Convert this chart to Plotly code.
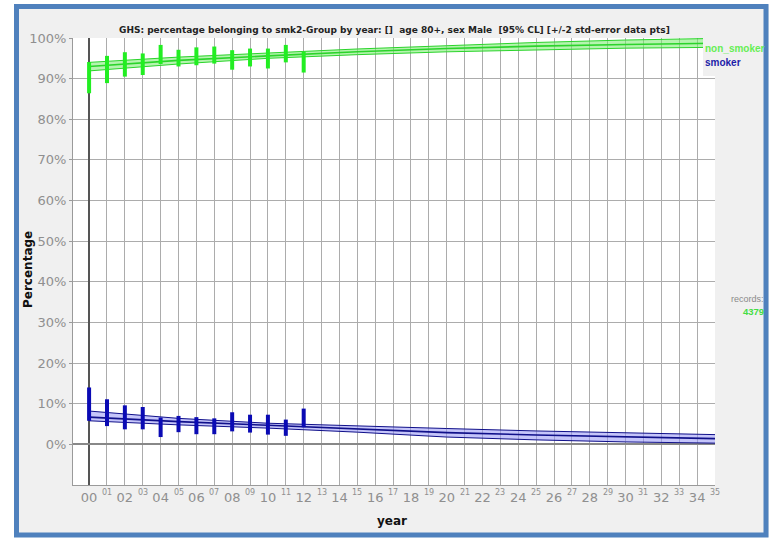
import plotly.graph_objects as go

# ---------------- data ----------------
years = list(range(0, 13))
non_lo = [86.4, 88.9, 90.5, 90.9, 93.6, 93.0, 93.3, 93.7, 92.2, 93.0, 92.5, 94.0, 91.5]
non_hi = [94.1, 95.6, 96.5, 96.2, 98.3, 97.1, 97.7, 97.9, 97.0, 97.4, 97.4, 98.3, 96.6]
smk_lo = [5.8, 4.5, 3.7, 3.7, 1.8, 3.0, 2.5, 2.5, 3.2, 2.9, 2.4, 2.1, 4.2]
smk_hi = [14.0, 11.1, 9.6, 9.2, 6.6, 7.0, 6.7, 6.4, 7.9, 7.3, 7.3, 6.1, 8.8]

fit_years = [0, 5, 10, 15, 20, 25, 30, 35]
non_fit = [93.0, 94.5, 95.6, 96.6, 97.4, 98.0, 98.4, 98.7]
non_fit_hi = [94.0, 95.3, 96.3, 97.3, 98.1, 98.9, 99.5, 99.9]
non_fit_lo = [91.9, 93.6, 95.0, 95.9, 96.6, 97.1, 97.5, 97.7]
smk_fit = [6.7, 5.6, 4.7, 3.8, 2.9, 2.3, 1.8, 1.4]
smk_fit_hi = [8.2, 6.4, 5.2, 4.5, 3.9, 3.3, 2.8, 2.4]
smk_fit_lo = [5.8, 4.8, 4.0, 3.0, 1.8, 1.1, 0.6, 0.3]

x_ticks = list(range(0, 36))
x_labels = ["%02d" % v for v in x_ticks]
y_ticks = list(range(0, 101, 10))
y_labels = ["%d%%" % v for v in y_ticks]

title = "GHS: percentage belonging to smk2-Group by year: []  age 80+, sex Male  [95% CL] [+/-2 std-error data pts]"
records = "4379"

# ---------------- layout helpers ----------------
W, H = 769, 539
L, R, T, B = 73, 715, 38, 485


def px(x):
    return (x - L) / (R - L)


def py(y):
    return (B - y) / (B - T)


GREEN = "#22ee22"
GREEN_LINE = "#2bd42b"
GREEN_FILL = "rgba(120,235,110,0.55)"
BLUE = "#0a0ab4"
BLUE_LINE = "#10108a"
BLUE_FILL = "rgba(150,150,245,0.55)"

fig = go.Figure()


def segs(xs, lo, hi):
    X, Y = [], []
    for x, a, b in zip(xs, lo, hi):
        X += [x, x, None]
        Y += [a, b, None]
    return X, Y


# fit bands
for fy, lo, hi, mid, fill, line in [
    (fit_years, non_fit_lo, non_fit_hi, non_fit, GREEN_FILL, GREEN_LINE),
    (fit_years, smk_fit_lo, smk_fit_hi, smk_fit, BLUE_FILL, BLUE_LINE),
]:
    fig.add_trace(go.Scatter(x=fy, y=lo, mode="lines", line=dict(color=line, width=1),
                             showlegend=False, hoverinfo="skip"))
    fig.add_trace(go.Scatter(x=fy, y=hi, mode="lines", line=dict(color=line, width=1),
                             fill="tonexty", fillcolor=fill, showlegend=False, hoverinfo="skip"))
    fig.add_trace(go.Scatter(x=fy, y=mid, mode="lines", line=dict(color=line, width=1.6),
                             showlegend=False, hoverinfo="skip"))

# data error bars
bx, by = segs(years, non_lo, non_hi)
fig.add_trace(go.Scatter(x=bx, y=by, mode="lines", line=dict(color=GREEN, width=4),
                         showlegend=False, hoverinfo="skip"))
bx, by = segs(years, smk_lo, smk_hi)
fig.add_trace(go.Scatter(x=bx, y=by, mode="lines", line=dict(color=BLUE, width=4),
                         showlegend=False, hoverinfo="skip"))

even_vals = [v for v in x_ticks if v % 2 == 0]
even_text = [x_labels[v] for v in even_vals]

fig.update_xaxes(
    range=[-0.9, 35], tickvals=even_vals, ticktext=even_text,
    showgrid=True, gridcolor="#acacac", gridwidth=1,
    zeroline=True, zerolinecolor="#555555", zerolinewidth=1.5,
    showline=True, linecolor="#9a9a9a", linewidth=1,
    tickfont=dict(family="DejaVu Sans", size=13, color="#8f8f8f"),
    ticks="", fixedrange=True,
    minor=dict(tickvals=[v for v in x_ticks if v % 2 == 1], showgrid=True,
               gridcolor="#acacac", gridwidth=1),
)
fig.update_yaxes(
    range=[-10, 100], tickvals=y_ticks, ticktext=y_labels,
    showgrid=True, gridcolor="#acacac", gridwidth=1,
    zeroline=True, zerolinecolor="#888888", zerolinewidth=1.5,
    showline=True, linecolor="#9a9a9a", linewidth=1,
    ticks="outside", ticklen=3, tickcolor="#9a9a9a",
    tickfont=dict(family="DejaVu Sans", size=13, color="#8f8f8f"),
    fixedrange=True,
)

white_strip = dict(type="rect", xref="paper", yref="paper", layer="below",
                   line=dict(width=0), fillcolor="white")
shapes = [
    dict(white_strip, x0=px(-5), x1=px(14), y0=py(H + 5), y1=py(-5)),
    dict(white_strip, x0=px(-5), x1=px(W + 5), y0=py(5), y1=py(-5)),
    dict(white_strip, x0=px(-5), x1=px(W + 5), y0=py(H + 5), y1=py(537)),
    dict(type="rect", xref="paper", yref="paper", layer="below",
         x0=px(16.5), x1=px(766), y0=py(535), y1=py(6.5),
         line=dict(color="#4f81bd", width=5), fillcolor="rgba(0,0,0,0)"),
    dict(type="rect", xref="paper", yref="paper", layer="above",
         x0=px(703), x1=px(763), y0=py(76), y1=py(36),
         line=dict(width=0), fillcolor="#f0f0f0"),
]

annotations = [
    dict(text="<b>" + title + "</b>", xref="paper", yref="paper",
         x=px(395), y=py(30), showarrow=False, xanchor="center", yanchor="middle",
         font=dict(family="DejaVu Sans", size=9, color="#222222")),
    dict(text="<b>Percentage</b>", xref="paper", yref="paper", textangle=-90,
         x=px(28), y=py(270), showarrow=False, xanchor="center", yanchor="middle",
         font=dict(family="DejaVu Sans", size=12, color="#111111")),
    dict(text="<b>year</b>", xref="paper", yref="paper",
         x=px(392), y=py(521), showarrow=False, xanchor="center", yanchor="middle",
         font=dict(family="DejaVu Sans", size=12, color="#111111")),
    dict(text="<b>non_smoker</b>", xref="paper", yref="paper",
         x=px(703), y=py(48), showarrow=False, xanchor="left", yanchor="middle",
         font=dict(family="Liberation Sans", size=10, color="#66ee55")),
    dict(text="<b>smoker</b>", xref="paper", yref="paper",
         x=px(703), y=py(63), showarrow=False, xanchor="left", yanchor="middle",
         font=dict(family="Liberation Sans", size=10, color="#1c1ca8")),
    dict(text="records:", xref="paper", yref="paper",
         x=px(766), y=py(299), showarrow=False, xanchor="right", yanchor="middle",
         font=dict(family="Liberation Sans", size=9, color="#8a8a8a")),
    dict(text="<b>" + records + "</b>", xref="paper", yref="paper",
         x=px(766), y=py(312), showarrow=False, xanchor="right", yanchor="middle",
         font=dict(family="Liberation Sans", size=9.5, color="#44dd44")),
]
for v in x_ticks:
    if v % 2 == 1:
        annotations.append(dict(text=x_labels[v], xref="x", yref="paper", x=v, y=py(492),
                                showarrow=False, xanchor="center", yanchor="middle",
                                font=dict(family="DejaVu Sans", size=8, color="#8f8f8f")))

fig.update_layout(
    width=W, height=H,
    margin=dict(l=L, r=W - R, t=T, b=H - B, pad=0),
    paper_bgcolor="#f0f0f0", plot_bgcolor="white",
    showlegend=False, shapes=shapes, annotations=annotations,
)

fig.write_html("out.html", config={"displayModeBar": False},
               post_script="document.body.style.margin='0px';")
